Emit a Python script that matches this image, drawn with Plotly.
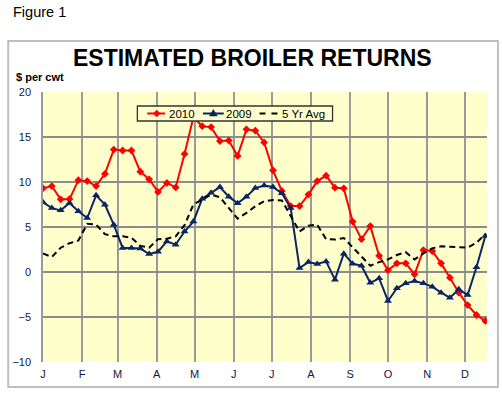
import datetime as dt
import plotly.graph_objects as go

# Weekly estimated broiler returns, $ per cwt
weeks = [dt.date(2010, 1, 1) + dt.timedelta(days=7 * i) for i in range(51)]

ret_2010 = [9.3, 9.55, 8.07, 8.1, 10.2, 10.1, 9.55, 10.9, 13.6, 13.5,
            13.5, 11.15, 10.3, 8.9, 9.9, 9.4, 13.1, 17.2, 16.2, 16.1,
            14.55, 14.6, 12.9, 15.85, 15.7, 14.4, 11.3, 9.0, 7.33, 7.33,
            8.6, 10.1, 10.7, 9.37, 9.3, 5.6, 3.65, 5.1, 1.8, 0.2,
            0.96, 0.96, -0.26, 2.44, 2.33, 0.96, -0.63, -2.3, -3.67, -4.78,
            -5.44]

ret_2009 = [7.74, 7.1, 6.85, 7.67, 6.74, 6.0, 8.52, 7.48, 5.26, 2.67,
            2.67, 2.6, 2.0, 2.25, 3.4, 3.04, 4.5, 5.6, 8.15, 8.8,
            9.44, 8.37, 7.63, 8.37, 9.33, 9.6, 9.44, 8.74, 7.1, 0.44,
            1.1, 0.89, 1.18, -0.85, 2.04, 0.93, 0.7, -1.2, -0.7, -3.22,
            -1.81, -1.26, -1.0, -1.26, -1.63, -2.3, -2.85, -1.93, -2.56, 0.52,
            4.0]

avg_5yr = [2.05, 1.67, 2.7, 3.2, 3.5, 5.35, 5.28, 4.2, 3.96, 3.96,
           3.8, 2.9, 2.7, 3.65, 3.7, 3.96, 5.2, 7.5, 8.04, 8.6,
           8.3, 7.1, 5.93, 6.56, 7.3, 7.85, 8.0, 7.95, 6.2, 4.5,
           5.15, 5.25, 3.65, 3.6, 3.78, 2.74, 1.63, 0.7, 1.1, 1.4,
           1.89, 2.2, 1.4, 2.07, 2.63, 2.85, 2.8, 2.74, 2.7, 3.25,
           4.2]

month_starts = [dt.date(2010, m, 1) for m in range(1, 13)]
month_labels = ["J", "F", "M", "A", "M", "J", "J", "A", "S", "O", "N", "D"]
y_ticks = [-10, -5, 0, 5, 10, 15, 20]
series_names = ["2010", "2009", "5 Yr Avg"]

FONT = "Arial, Liberation Sans, sans-serif"
TXT = "#101840"
RED = "#FF0000"
NAVY = "#0A2465"

# plot-area geometry (pixels) used for placing decorations in paper coords
L, R, T, B = 40, 487, 92, 362
W, H = 502, 395


def px(x):
    return (x - L) / (R - L)


def py(y):
    return (B - y) / (B - T)


fig = go.Figure()
fig.add_trace(go.Scatter(
    x=weeks, y=ret_2010, name=series_names[0], mode="lines+markers",
    line=dict(color=RED, width=2),
    marker=dict(symbol="diamond", size=6, color=RED)))
fig.add_trace(go.Scatter(
    x=weeks, y=ret_2009, name=series_names[1], mode="lines+markers",
    line=dict(color=NAVY, width=2),
    marker=dict(symbol="triangle-up", size=7, color=NAVY)))
fig.add_trace(go.Scatter(
    x=weeks, y=avg_5yr, name=series_names[2], mode="lines",
    line=dict(color="#000000", width=2, dash="6px,4px")))

# ---- hand-made compact legend (Excel style) ----
ly = 113.5
shapes = [
    dict(type="rect", xref="paper", yref="paper",
         x0=px(5), x1=px(498), y0=py(387), y1=py(41),
         line=dict(color="#BFBFBF", width=2), layer="below"),
    dict(type="rect", xref="paper", yref="paper",
         x0=px(135), x1=px(331.5), y0=py(121), y1=py(106),
         fillcolor="#FFFFCC", line=dict(color="#333333", width=1.3),
         layer="above"),
    dict(type="line", xref="paper", yref="paper",
         x0=px(145), x1=px(163), y0=py(ly), y1=py(ly),
         line=dict(color=RED, width=2)),
    dict(type="path", xref="paper", yref="paper",
         path="M %f %f L %f %f L %f %f L %f %f Z" % (
             px(154.5), py(ly - 3.5), px(158), py(ly), px(154.5), py(ly + 3.5),
             px(151), py(ly)),
         fillcolor=RED, line=dict(color=RED, width=0.5)),
    dict(type="line", xref="paper", yref="paper",
         x0=px(201), x1=px(222), y0=py(ly), y1=py(ly),
         line=dict(color=NAVY, width=2)),
    dict(type="path", xref="paper", yref="paper",
         path="M %f %f L %f %f L %f %f Z" % (
             px(211.5), py(ly - 4), px(215.5), py(ly + 2.5), px(207.5), py(ly + 2.5)),
         fillcolor=NAVY, line=dict(color=NAVY, width=0.5)),
    dict(type="line", xref="paper", yref="paper",
         x0=px(258), x1=px(264), y0=py(ly), y1=py(ly),
         line=dict(color="#000000", width=2)),
    dict(type="line", xref="paper", yref="paper",
         x0=px(270), x1=px(276), y0=py(ly), y1=py(ly),
         line=dict(color="#000000", width=2)),
]

legend_texts = [(165, series_names[0]), (222.5, series_names[1]), (278.5, series_names[2])]
annotations = [
    dict(text=t, xref="paper", yref="paper", x=px(x0), y=py(ly),
         xanchor="left", yanchor="middle", showarrow=False,
         font=dict(family=FONT, size=11.5, color="#000000"))
    for x0, t in legend_texts
]
annotations += [
    dict(text="Figure 1", xref="paper", yref="paper",
         x=px(8), y=py(12), xanchor="left", yanchor="middle",
         showarrow=False, font=dict(family=FONT, size=14.5, color="#000000")),
    dict(text="<b>ESTIMATED BROILER RETURNS</b>", xref="paper", yref="paper",
         x=px(251), y=py(58), xanchor="center", yanchor="middle",
         showarrow=False, font=dict(family=FONT, size=23, color="#000000")),
    dict(text="<b>$ per cwt</b>", xref="paper", yref="paper",
         x=px(11), y=py(77), xanchor="left", yanchor="middle",
         showarrow=False, font=dict(family=FONT, size=11, color="#000000")),
]

fig.update_layout(
    width=W, height=H,
    margin=dict(l=L, r=W - R, t=T, b=H - B),
    paper_bgcolor="#FFFFFF",
    plot_bgcolor="#FFFFCC",
    font=dict(family=FONT, size=11, color=TXT),
    showlegend=False,
    xaxis=dict(
        type="date",
        range=["2010-01-01", "2010-12-18 08:00"],
        tickvals=month_starts, ticktext=month_labels,
        showgrid=True, gridcolor="#9A9A9A", gridwidth=1.5,
        showline=False, zeroline=False, ticks="",
        tickfont=dict(size=11, color=TXT), ticklabelstandoff=4),
    yaxis=dict(
        range=[-10, 20], tickvals=y_ticks,
        showgrid=True, gridcolor="#8C8C8C", gridwidth=1.5,
        zeroline=False, showline=True, linecolor="#9A9A9A", linewidth=1.5,
        ticks="", tickfont=dict(size=11, color=TXT), ticklabelstandoff=8),
    shapes=shapes,
    annotations=annotations,
)

fig.write_html(
    "out.html",
    config={"displayModeBar": False},
    post_script="document.body.style.margin='0';document.body.style.padding='0';",
)
